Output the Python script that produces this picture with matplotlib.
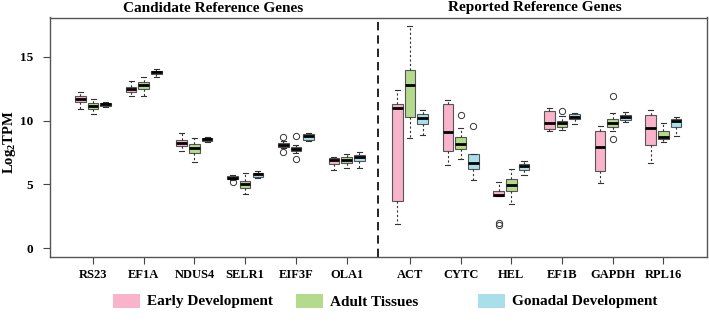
from matplotlib import pyplot as plt
from matplotlib.patches import Rectangle

plt.rcParams.update({'font.family': 'Liberation Serif', 'font.weight': 'bold',
                     'mathtext.fontset': 'custom', 'mathtext.rm': 'Liberation Serif:bold',
                     'mathtext.default': 'rm'})

genes = ["RS23", "EF1A", "NDUS4", "SELR1", "EIF3F", "OLA1",
         "ACT", "CYTC", "HEL", "EF1B", "GAPDH", "RPL16"]
series = ["Early Development", "Adult Tissues", "Gonadal Development"]
colors = ["#F9B3CB", "#B4DA8C", "#A8DFEA"]
group_titles = ["Candidate Reference Genes", "Reported Reference Genes"]

# whislo, q1, median, q3, whishi  (Log2 TPM) per gene
early = [[10.92, 11.50, 11.68, 11.94, 12.28], [11.94, 12.25, 12.46, 12.62, 13.14],
         [7.65, 8.01, 8.27, 8.48, 9.06], [5.33, 5.39, 5.52, 5.66, 5.73],
         [7.85, 7.96, 8.11, 8.27, 8.40], [6.13, 6.60, 6.91, 7.07, 7.17],
         [1.86, 3.72, 11.02, 11.29, 12.41], [6.54, 7.62, 9.11, 11.34, 11.65],
         [4.05, 4.08, 4.16, 4.50, 5.16], [9.19, 9.35, 9.80, 10.74, 11.02],
         [5.13, 6.07, 7.91, 9.19, 9.61], [6.70, 8.09, 9.45, 10.42, 10.84]]
adult = [[10.55, 10.92, 11.15, 11.37, 11.70], [11.94, 12.52, 12.78, 13.01, 13.46],
         [6.73, 7.49, 7.83, 8.17, 8.67], [4.24, 4.74, 5.03, 5.24, 5.87],
         [7.49, 7.65, 7.78, 7.91, 8.11], [6.26, 6.65, 6.91, 7.12, 7.41],
         [8.62, 10.27, 12.80, 13.96, 17.44], [6.97, 7.78, 8.17, 8.72, 9.45],
         [3.46, 4.48, 4.92, 5.39, 6.21], [9.27, 9.53, 9.84, 9.98, 10.37],
         [9.19, 9.53, 9.80, 10.11, 10.63], [8.33, 8.54, 8.72, 9.21, 9.84]]
gonadal = [[11.10, 11.15, 11.31, 11.41, 11.47], [13.41, 13.65, 13.80, 13.93, 14.03],
           [8.33, 8.43, 8.54, 8.64, 8.72], [5.47, 5.60, 5.79, 5.92, 6.07],
           [8.38, 8.48, 8.77, 8.95, 9.06], [6.31, 6.83, 7.17, 7.31, 7.56],
           [8.85, 9.72, 10.24, 10.55, 10.82], [5.34, 6.23, 6.70, 7.41, 7.41],
           [5.76, 6.10, 6.42, 6.62, 6.81], [9.72, 10.13, 10.31, 10.50, 10.63],
           [9.87, 10.08, 10.27, 10.45, 10.68], [8.82, 9.48, 9.95, 10.13, 10.29]]
early_out = {"SELR1": [5.16], "EIF3F": [8.69, 7.52], "HEL": [1.95, 1.78]}
adult_out = {"EIF3F": [8.77, 7.02], "CYTC": [10.47], "EF1B": [10.79], "GAPDH": [11.96, 8.56]}
gonadal_out = {"CYTC": [9.56]}

fig = plt.figure(figsize=(7.09, 3.36), dpi=100)
ax = fig.add_axes([50/709, 79/336, 657/709, 239.5/336])

pos = [i + 1 + (0.25 if i >= 6 else 0) for i in range(len(genes))]
offsets = [-0.25, 0, 0.25]
for data, outs, col, off in zip([early, adult, gonadal], [early_out, adult_out, gonadal_out], colors, offsets):
    stats = []
    for g, s in zip(genes, data):
        stats.append({'whislo': s[0], 'q1': s[1], 'med': s[2], 'q3': s[3], 'whishi': s[4],
                      'fliers': outs.get(g, [])})
    ax.bxp(stats, positions=[p + off for p in pos], widths=0.21, capwidths=0.1,
           patch_artist=True, manage_ticks=False,
           boxprops=dict(facecolor=col, edgecolor='#555555', linewidth=0.8),
           medianprops=dict(color='black', linewidth=2),
           whiskerprops=dict(color='#333333', linewidth=0.8, linestyle=(0, (2, 2))),
           capprops=dict(color='#333333', linewidth=0.8),
           flierprops=dict(marker='o', markerfacecolor='none', markeredgecolor='#333333',
                           markersize=4.5, markeredgewidth=0.7))

ax.axvline(6.62, color='black', linewidth=1.2, linestyle=(0, (5, 3)))
ax.set_xlim(0.15, 13.11)
ax.set_ylim(-0.7, 18.1)
ax.set_xticks(pos)
ax.set_xticklabels(genes, fontsize=9, fontweight='bold')
ax.set_yticks([0, 5, 10, 15])
ax.set_yticklabels(['0', '5', '10', '15'], fontsize=9.5, fontweight='bold')
ax.tick_params(axis='y', length=5, pad=7, color='#444444')
ax.tick_params(axis='x', length=5, pad=4, color='#444444')
for sp in ax.spines.values():
    sp.set_color('#555555')
    sp.set_linewidth(1)
ax.set_ylabel('Log$_2$TPM', fontsize=10.5, fontweight='bold', va='center')
ax.yaxis.set_label_coords(-0.062, 0.48)

fig.text(213/709, 1 - 8/336, group_titles[0], ha='center', va='center', fontsize=11, fontweight='bold')
fig.text(535/709, 1 - 8/336, group_titles[1], ha='center', va='center', fontsize=11, fontweight='bold')

lx = [113, 296, 478]
for x, lab, col in zip(lx, series, colors):
    fig.add_artist(Rectangle((x/709, 1 - 308/336), 27/709, 14/336, transform=fig.transFigure,
                             facecolor=col, edgecolor='none'))
    fig.text((x + 34)/709, 1 - 302/336, lab, ha='left', va='center', fontsize=11, fontweight='bold')

fig.savefig('out.png', dpi=100)
